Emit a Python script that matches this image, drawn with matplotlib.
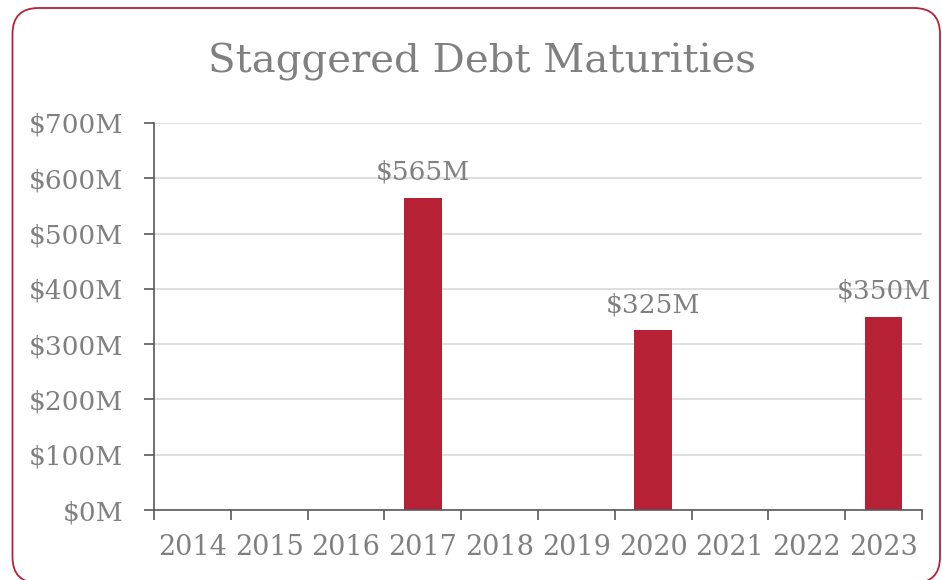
import matplotlib.pyplot as plt
from matplotlib.patches import FancyBboxPatch
from matplotlib.ticker import FixedLocator, FuncFormatter

YEARS = ["2014", "2015", "2016", "2017", "2018", "2019", "2020", "2021", "2022", "2023"]
MATURITIES = [0, 0, 0, 565, 0, 0, 325, 0, 0, 350]
Y_TICKS = [0, 100, 200, 300, 400, 500, 600, 700]

BAR_COLOR = "#b72136"
TEXT_COLOR = "#808080"
AXIS_COLOR = "#595959"
GRID_COLOR = "#d9d9d9"

plt.rcParams["font.family"] = ["DejaVu Serif"]

fig = plt.figure(figsize=(9.42, 5.8), dpi=100)
W, H = 942, 580

# rounded frame, drawn in pixel coordinates (bottom runs just off the image)
frame = FancyBboxPatch(
    (12.5, -3), 927.5, 575,
    boxstyle="round,pad=0,rounding_size=26",
    transform=None, facecolor="none", edgecolor=BAR_COLOR, linewidth=1.3,
    zorder=10,
)
fig.patches.append(frame)

ax = fig.add_axes([154 / W, 1 - 510 / H, (922 - 154) / W, (510 - 123) / H])
ax.set_facecolor("none")

x = list(range(len(YEARS)))
bars = ax.bar(x, MATURITIES, width=0.49, color=BAR_COLOR, zorder=3)

for xi, v in zip(x, MATURITIES):
    if v > 0:
        ax.text(xi, v + 24, f"${v}M", ha="center", va="bottom",
                fontsize=19, color=TEXT_COLOR, zorder=4)

ax.set_xlim(-0.5, len(YEARS) - 0.5)
ax.set_ylim(0, 700)

ax.set_yticks(Y_TICKS)
ax.yaxis.set_major_formatter(FuncFormatter(lambda v, _: f"${int(v)}M"))
ax.grid(axis="y", color=GRID_COLOR, linewidth=1.2, zorder=0)

# category boundaries as ticks, labels at centres
ax.xaxis.set_major_locator(FixedLocator([i - 0.5 for i in range(len(YEARS) + 1)]))
ax.xaxis.set_major_formatter(FuncFormatter(lambda v, _: ""))
ax.xaxis.set_minor_locator(FixedLocator(x))
ax.set_xticklabels(YEARS, minor=True)
ax.tick_params(axis="x", which="minor", length=0, pad=17,
               labelsize=19.5, labelcolor=TEXT_COLOR)
ax.tick_params(axis="x", which="major", length=7, width=1.2, color=AXIS_COLOR)
ax.tick_params(axis="y", length=7, width=1.2, color=AXIS_COLOR,
               labelsize=19, labelcolor=TEXT_COLOR, pad=15)

for side in ("top", "right"):
    ax.spines[side].set_visible(False)
for side in ("left", "bottom"):
    ax.spines[side].set_color(AXIS_COLOR)
    ax.spines[side].set_linewidth(1.2)
    ax.spines[side].set_zorder(5)

fig.text(482 / W, 1 - 62 / H, "Staggered Debt Maturities", ha="center", va="center",
         fontsize=29, color=TEXT_COLOR)

fig.savefig("out.png", dpi=100)
